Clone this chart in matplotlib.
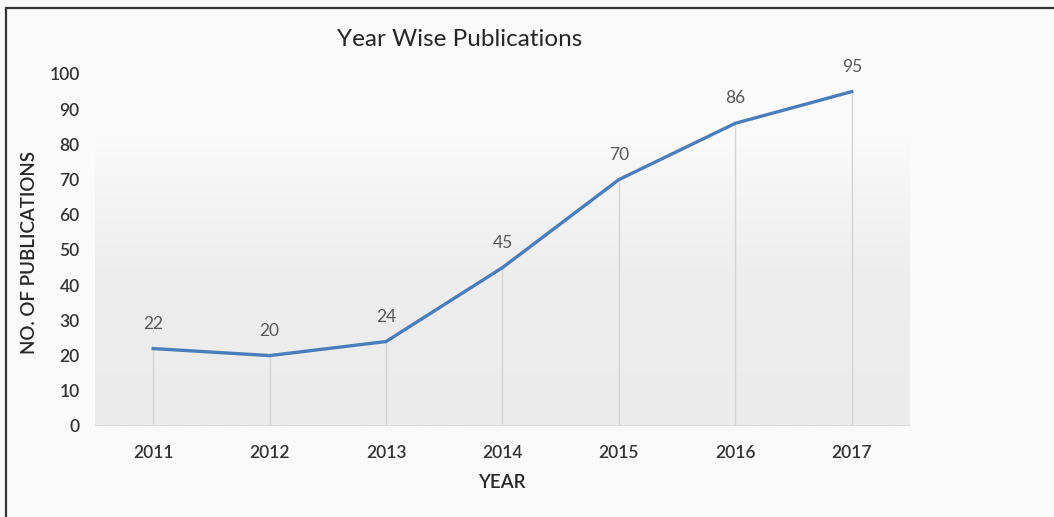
import matplotlib
matplotlib.use("Agg")
import matplotlib.pyplot as plt
import numpy as np
from matplotlib.patches import Rectangle
from matplotlib.colors import LinearSegmentedColormap

years = ["2011", "2012", "2013", "2014", "2015", "2016", "2017"]
pubs = [22, 20, 24, 45, 70, 86, 95]
yticks = [0, 10, 20, 30, 40, 50, 60, 70, 80, 90, 100]

plt.rcParams['font.family'] = ['Lato', 'DejaVu Sans']

W, H = 1054, 517
fig = plt.figure(figsize=(W / 100, H / 100), dpi=100, facecolor='#fafafa')

# outer frame
fig.patches.append(Rectangle((6 / W, -0.1), 1.2, 1 - 8 / H + 0.1, transform=fig.transFigure,
                             fill=False, edgecolor='#333333', linewidth=1.6, zorder=10))

ax = fig.add_axes([95 / W, 1 - 426 / H, (910 - 95) / W, (426 - 74) / H])
ax.set_facecolor('none')
x = np.arange(len(years))
ax.set_xlim(-0.5, len(years) - 0.5)
ax.set_ylim(0, 100)

# gradient background
grad = np.linspace(0, 1, 256).reshape(-1, 1)
cmap = LinearSegmentedColormap.from_list(
    'g', [(0.0, '#ebebeb'), (0.55, '#eeeeee'), (0.8, '#f4f4f4'), (1.0, '#fafafa')])
ax.imshow(grad, extent=(-0.5, len(years) - 0.5, 0, 82), origin='lower', aspect='auto',
          cmap=cmap, zorder=0, interpolation='bilinear')

# drop lines
ax.vlines(x, 0, pubs, colors='#d4d4d4', linewidth=1.0, zorder=1)
ax.axhline(0, color='#d9d9d9', linewidth=1.2, zorder=1)

ax.plot(x, pubs, color='#4a7ebb', linewidth=2.4, solid_joinstyle='round', zorder=3)

for xi, v in zip(x, pubs):
    ax.annotate(str(v), (xi, v), xytext=(0, 18), textcoords='offset points',
                ha='center', va='center', fontsize=12.5, color='#595959')

for s in ax.spines.values():
    s.set_visible(False)
ax.set_xticks(x)
ax.set_xticklabels(years)
ax.set_yticks(yticks)
ax.tick_params(axis='both', length=0, labelsize=12.5, labelcolor='#333333')
ax.tick_params(axis='x', pad=14)
ax.tick_params(axis='y', pad=11)
for lab in ax.get_xticklabels() + ax.get_yticklabels():
    lab.set_fontweight('semibold')

fig.text(460 / W, 1 - 40 / H, "Year Wise Publications", ha='center', va='center',
         fontsize=17.5, color='#262626')
fig.text(30 / W, 1 - 252 / H, "NO. OF PUBLICATIONS", ha='center', va='center',
         rotation=90, fontsize=13.5, color='#262626', fontweight='semibold')
fig.text(502 / W, 1 - 483 / H, "YEAR", ha='center', va='center',
         fontsize=13.5, color='#262626', fontweight='semibold')

fig.savefig("out.png", dpi=100, facecolor=fig.get_facecolor())
